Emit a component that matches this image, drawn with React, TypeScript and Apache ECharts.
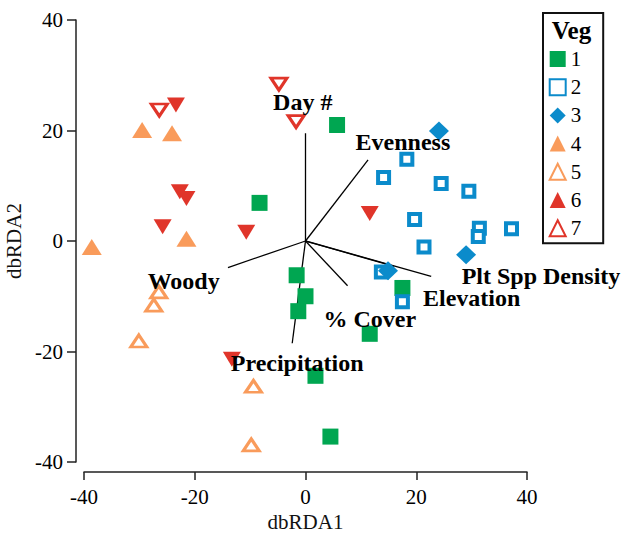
import React, { useEffect, useRef } from "react";
import * as echarts from "echarts";

// Group scores (dbRDA1, dbRDA2)
const veg1X = [5.7, -8.3, -1.6, 0, -1.3, 1.8, 11.6, 4.5, 17.5];
const veg1Y = [21.0, 6.9, -6.2, -10.0, -12.7, -24.4, -16.8, -35.4, -8.5];
const veg2X = [18.3, 14.1, 24.5, 29.5, 19.7, 31.4, 31.2, 37.2, 21.4, 17.5, 13.7];
const veg2Y = [14.8, 11.5, 10.4, 9.0, 3.9, 2.3, 0.8, 2.2, -1.1, -11.0, -5.6];
const veg3X = [24.1, 29.0, 14.9];
const veg3Y = [19.9, -2.5, -5.4];
const veg4X = [-29.5, -24.1, -38.6, -21.5];
const veg4Y = [20.1, 19.5, -1.1, 0.4];
const veg5X = [-26.5, -27.4, -30.1, -9.4, -9.8];
const veg5Y = [-9.2, -11.6, -18.1, -26.3, -36.9];
const veg6X = [-23.4, -22.7, -21.5, -25.8, -10.7, 11.6, -13.3];
const veg6Y = [24.6, 8.9, 7.7, 2.6, 1.6, 5.0, -21.4];
const veg7X = [-4.8, -26.4, -1.7];
const veg7Y = [28.4, 23.7, 21.6];

// Biplot vectors
const vecNames = ["Day #", "Evenness", "Woody", "Precipitation", "% Cover", "Elevation", "Plt Spp Density"];
const vecX = [0, 11.3, -14.0, -2.4, 7.6, 16.0, 22.7];
const vecY = [19.5, 14.7, -4.8, -18.5, -8.1, -4.6, -6.4];
// Label anchor positions (data coords)
const labX = [-0.5, 17.6, -22.0, -1.5, 11.6, 30.0, 28.2];
const labY = [25.2, 17.9, -7.3, -22.0, -14.1, -10.3, -6.4];
const labAlign = ["center", "center", "center", "center", "center", "center", "left"];

const legendNames = ["1", "2", "3", "4", "5", "6", "7"];

const GREEN = "#00a651";
const BLUE = "#0b8bcb";
const ORANGE = "#f99b5b";
const RED = "#e0352a";
const FONT = "'Liberation Serif', 'Times New Roman', serif";

const zip = (xs: number[], ys: number[]) => xs.map((x, i) => [x, ys[i]]);

export default function App() {
  const ref = useRef<HTMLDivElement>(null);
  useEffect(() => {
    if (!ref.current) return;
    const chart = echarts.init(ref.current, undefined, { renderer: "svg" });

    const vecSeries = vecX.map((x, i) => ({
      type: "line",
      name: "vec" + i,
      data: [[0, 0], [x, vecY[i]]],
      symbol: "none",
      lineStyle: { color: "#000", width: 1.3 },
      silent: true,
      z: 1,
    }));

    const option: any = {
      animation: false,
      backgroundColor: "#fff",
      textStyle: { fontFamily: FONT },
      grid: { left: 84, right: 100, top: 20, bottom: 72, outerBoundsMode: "none", containLabel: false },
      xAxis: {
        type: "value",
        min: -40,
        max: 40,
        interval: 20,
        offset: 10,
        name: "dbRDA1",
        nameLocation: "middle",
        nameGap: 39,
        nameTextStyle: { fontFamily: FONT, fontSize: 21, color: "#111" },
        axisLine: { show: true, onZero: false, lineStyle: { color: "#222", width: 1.5 } },
        axisTick: { show: true, length: 8, lineStyle: { color: "#222", width: 1.5 } },
        axisLabel: { fontFamily: FONT, fontSize: 21, color: "#000", margin: 14 },
        splitLine: { show: false },
      },
      yAxis: {
        type: "value",
        min: -40,
        max: 40,
        interval: 20,
        offset: 8,
        name: "dbRDA2",
        nameLocation: "middle",
        nameGap: 47,
        nameRotate: 90,
        nameTextStyle: { fontFamily: FONT, fontSize: 21, color: "#111" },
        axisLine: { show: true, onZero: false, lineStyle: { color: "#222", width: 1.5 } },
        axisTick: { show: true, length: 9, lineStyle: { color: "#222", width: 1.5 } },
        axisLabel: { fontFamily: FONT, fontSize: 21, color: "#000", margin: 13 },
        splitLine: { show: false },
      },
      legend: {
        data: legendNames,
        orient: "vertical",
        left: 543,
        top: 13,
        itemWidth: 16,
        itemHeight: 16,
        itemGap: 6.2,
        itemTextGap: 9.3,
        padding: [35, 22, 4, 5.7],
        borderColor: "#111",
        borderWidth: 2,
        textStyle: { fontFamily: FONT, fontSize: 21, color: "#000", lineHeight: 22 },
        selectedMode: false,
      },
      graphic: [
        {
          type: "text",
          x: 571.5,
          y: 30,
          style: {
            text: "Veg",
            font: "bold 25px 'Liberation Serif'",
            fill: "#000",
            textAlign: "center",
            textVerticalAlign: "middle",
          },
        },
      ],
      series: [
        ...vecSeries,
        {
          type: "scatter",
          name: "1",
          data: zip(veg1X, veg1Y),
          symbol: "rect",
          symbolSize: 16,
          itemStyle: { color: GREEN, opacity: 1 },
          z: 3,
        },
        {
          type: "scatter",
          name: "2",
          data: zip(veg2X, veg2Y),
          symbol: "rect",
          symbolSize: 11,
          itemStyle: { color: "#fff", borderColor: BLUE, borderWidth: 4, opacity: 1 },
          z: 3,
        },
        {
          type: "scatter",
          name: "3",
          data: zip(veg3X, veg3Y),
          symbol: "diamond",
          symbolSize: [20, 19],
          itemStyle: { color: BLUE, opacity: 1 },
          z: 3,
        },
        {
          type: "scatter",
          name: "4",
          data: zip(veg4X, veg4Y),
          symbol: "triangle",
          symbolSize: [20, 16],
          itemStyle: { color: ORANGE, opacity: 1 },
          z: 3,
        },
        {
          type: "scatter",
          name: "5",
          data: zip(veg5X, veg5Y),
          symbol: "triangle",
          symbolSize: [16, 12],
          itemStyle: { color: "#fff", borderColor: ORANGE, borderWidth: 3, opacity: 1 },
          z: 3,
        },
        {
          type: "scatter",
          name: "6",
          data: zip(veg6X, veg6Y),
          symbol: "triangle",
          symbolRotate: 180,
          symbolSize: [18, 15],
          itemStyle: { color: RED, opacity: 1 },
          z: 3,
        },
        {
          type: "scatter",
          name: "7",
          data: zip(veg7X, veg7Y),
          symbol: "triangle",
          symbolRotate: 180,
          symbolSize: [16, 12],
          itemStyle: { color: "#fff", borderColor: RED, borderWidth: 3, opacity: 1 },
          z: 3,
        },
        {
          type: "scatter",
          name: "vectorLabels",
          clip: false,
          silent: true,
          symbolSize: 1,
          itemStyle: { color: "rgba(255,255,255,0)" },
          z: 5,
          data: vecNames.map((n, i) => ({
            value: [labX[i], labY[i]],
            name: n,
            label: {
              show: true,
              position: "inside",
              align: labAlign[i],
              verticalAlign: "middle",
              formatter: n,
              fontFamily: FONT,
              fontWeight: "bold",
              fontSize: 24,
              color: "#000",
              opacity: 1,
              textBorderWidth: 0,
              textBorderColor: "transparent",
            },
          })),
        },
      ],
    };
    chart.setOption(option);
    return () => chart.dispose();
  }, []);

  return (
    <div
      ref={ref}
      style={{ position: "fixed", left: 0, top: 0, width: 627, height: 534, background: "#fff" }}
    />
  );
}
